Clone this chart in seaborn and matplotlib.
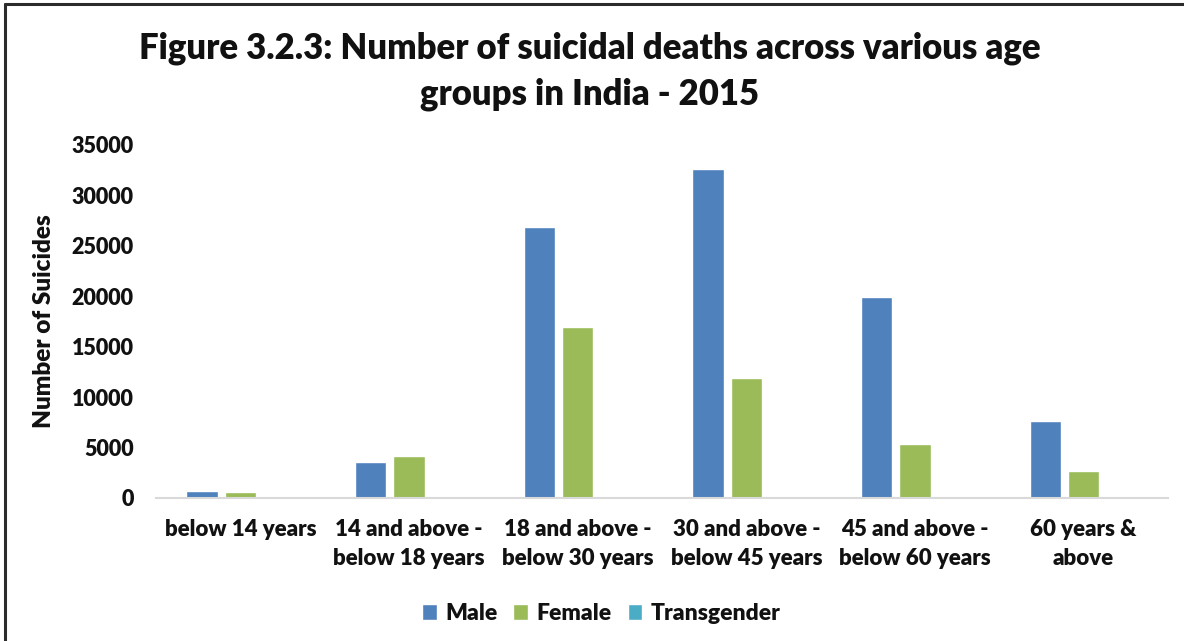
import matplotlib
matplotlib.use("Agg")
import matplotlib.pyplot as plt
from matplotlib.lines import Line2D
import pandas as pd
import seaborn as sns

# values
age_groups = [
    "below 14 years",
    "14 and above -\nbelow 18 years",
    "18 and above -\nbelow 30 years",
    "30 and above -\nbelow 45 years",
    "45 and above -\nbelow 60 years",
    "60 years &\nabove",
]
genders = ["Male", "Female", "Transgender"]
male = [730, 3600, 26880, 32660, 19910, 7600]
female = [600, 4190, 16940, 11890, 5380, 2680]
transgender = [0, 2, 12, 11, 5, 2]
colors = ["#4F81BD", "#9BBB59", "#4BACC6"]

df = pd.DataFrame({
    "age": age_groups * 3,
    "gender": [g for g in genders for _ in age_groups],
    "count": male + female + transgender,
})

sns.set_theme(style="white")
plt.rcParams["font.family"] = ["Lato", "DejaVu Sans"]

fig = plt.figure(figsize=(11.84, 6.41), dpi=100)
ax = fig.add_axes([0.1318, 0.2231, 0.8547, 0.5507])

sns.barplot(data=df, x="age", y="count", hue="gender", order=age_groups,
            hue_order=genders, palette=colors, width=0.68, gap=0.18,
            errorbar=None, ax=ax, legend=True, saturation=1)

ax.set_ylim(0, 35000)
ax.set_yticks(range(0, 35001, 5000))
ax.set_xlim(-0.5, len(age_groups) - 0.5)
ax.tick_params(axis="both", length=0, labelcolor="#111111")
ax.tick_params(axis="y", labelsize=15.5, pad=16)
ax.tick_params(axis="x", labelsize=16, pad=15)
for lab in ax.get_xticklabels():
    lab.set_fontweight("heavy")
    lab.set_linespacing(1.5)
for lab in ax.get_yticklabels():
    lab.set_fontweight("heavy")
ax.set_xlabel("")
ax.set_ylabel("Number of Suicides", fontsize=17.5, fontweight="heavy",
              color="#111111", labelpad=12)

for s in ["top", "right", "left"]:
    ax.spines[s].set_visible(False)
ax.spines["bottom"].set_color("#D9D9D9")
ax.spines["bottom"].set_linewidth(1.5)

leg = ax.legend(loc="center", bbox_to_anchor=(0.44, -0.327), ncol=3,
                frameon=False, fontsize=16.5, handlelength=0.65,
                handleheight=0.65, handletextpad=0.35, columnspacing=0.7)
for t in leg.get_texts():
    t.set_fontweight("heavy")
    t.set_color("#111111")

fig.text(0.498, 0.925, "Figure 3.2.3: Number of suicidal deaths across various age",
         ha="center", va="center", fontsize=24.9, fontweight="heavy", color="#111111")
fig.text(0.498, 0.853, "groups in India - 2015",
         ha="center", va="center", fontsize=24.9, fontweight="heavy", color="#111111")

# frame around the figure (left and top visible in the reference)
fig.add_artist(Line2D([0.0045, 0.0045], [0, 0.994], transform=fig.transFigure,
                      color="#2b2b2b", lw=2.2))
fig.add_artist(Line2D([0.0045, 1], [0.994, 0.994], transform=fig.transFigure,
                      color="#2b2b2b", lw=2.2))

fig.savefig("out.png", dpi=100, facecolor="white")
